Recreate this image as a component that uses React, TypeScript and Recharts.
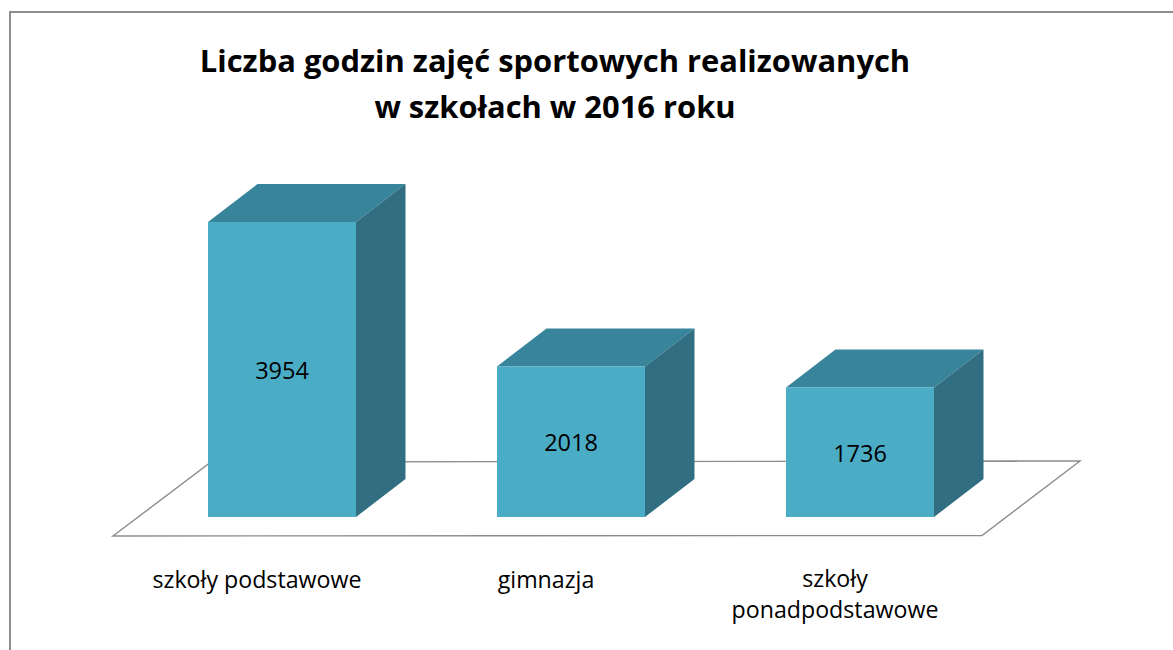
import { BarChart, Bar, XAxis, YAxis, LabelList, Customized } from 'recharts';

const CATEGORIES = ['szkoły podstawowe', 'gimnazja', 'szkoły ponadpodstawowe'];
const HOURS = [3954, 2018, 1736];
const TITLE = ['Liczba godzin zajęć sportowych realizowanych', 'w szkołach w 2016 roku'];

const data = CATEGORIES.map((name, i) => ({ name, hours: HOURS[i] }));

const DEPTH_X = 49.5;
const DEPTH_Y = 38;
const FONT = '"Open Sans", sans-serif';

// bar with fake 3D top and side
function Box(props: any) {
    const { x, y, width, height } = props;
    const r = x + width;
    const b = y + height;
    return (
        <g>
            <polygon points={`${x},${y} ${x + DEPTH_X},${y - DEPTH_Y} ${r + DEPTH_X},${y - DEPTH_Y} ${r},${y}`} fill="#38849b" />
            <polygon points={`${r},${y} ${r + DEPTH_X},${y - DEPTH_Y} ${r + DEPTH_X},${b - DEPTH_Y} ${r},${b}`} fill="#316e81" />
            <rect x={x} y={y} width={width} height={height} fill="#4bacc6" />
        </g>
    );
}

function Floor() {
    return <polygon points="113,536 982,535.5 1080,461 211,462" fill="#fff" stroke="#8c8c8c" strokeWidth={1.4} />;
}

function CategoryTick(props: any) {
    const { x, payload } = props;
    const lines = payload.value === 'szkoły ponadpodstawowe' ? ['szkoły', 'ponadpodstawowe'] : [payload.value];
    return (
        <text textAnchor="middle" fontFamily={FONT} fontSize={23.2} fill="#000">
            {lines.map((l: string, i: number) => (
                <tspan key={l} x={x - 25} y={lines.length > 1 ? 587 + i * 31 : 588}>{l}</tspan>
            ))}
        </text>
    );
}

export default function App() {
    return (
        <div style={{ position: 'absolute', left: 0, top: 0, width: 1173, height: 650, background: '#fff', overflow: 'hidden' }}>
            <div style={{ position: 'absolute', left: 9, top: 11, width: 1173, height: 700, borderLeft: '2.5px solid #8e8e8e', borderTop: '2px solid #8e8e8e' }} />
            <div style={{ position: 'absolute', left: 0, top: 37, width: 1110, textAlign: 'center', fontFamily: FONT, fontWeight: 700, fontSize: 30.9, lineHeight: '46px', color: '#000' }}>
                {TITLE.map((t) => <div key={t}>{t}</div>)}
            </div>
            <div style={{ position: 'absolute', left: 0, top: 0 }}>
                <BarChart width={1173} height={650} data={data} barCategoryGap={70.5} margin={{ top: 0, right: 168.5, bottom: 103, left: 137.5 }}>
                    <Customized component={Floor} />
                    <YAxis hide domain={[0, 6930]} />
                    <XAxis dataKey="name" axisLine={false} tickLine={false} interval={0} tick={<CategoryTick />} />
                    <Bar dataKey="hours" shape={<Box />} isAnimationActive={false}>
                        <LabelList dataKey="hours" position="center" fontFamily={FONT} fontSize={23.5} fill="#000" dy={1} />
                    </Bar>
                </BarChart>
            </div>
        </div>
    );
}
